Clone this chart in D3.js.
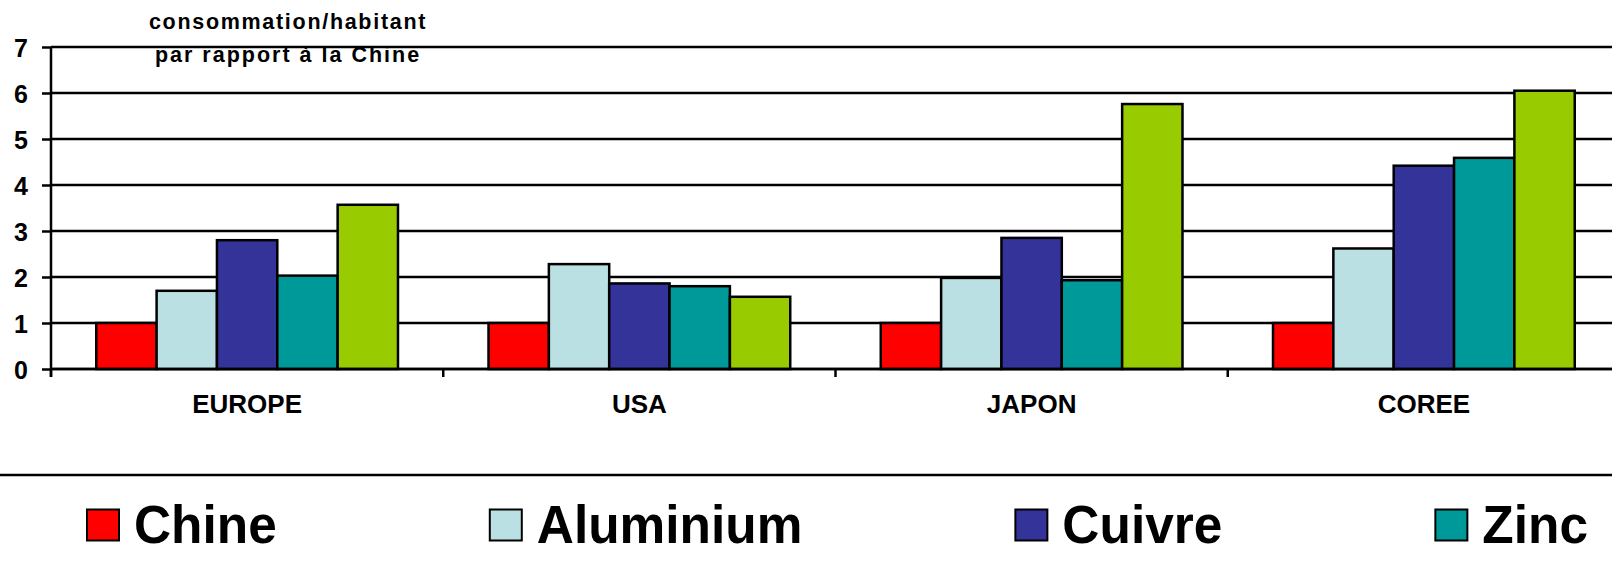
<!DOCTYPE html>
<html>
<head>
<meta charset="utf-8">
<script src="https://cdn.jsdelivr.net/npm/d3@7"></script>
<style>
  html, body { margin: 0; padding: 0; background: #fff; }
  svg { display: block; font-family: "Liberation Sans", Arial, sans-serif; font-weight: bold; }
</style>
</head>
<body>
<svg id="chart" width="1612" height="570"></svg>
<script>
// Consumption per inhabitant relative to China (China = 1)
const categories = ["EUROPE", "USA", "JAPON", "COREE"];
const seriesNames = ["Chine", "Aluminium", "Cuivre", "Zinc", "Acier"];
const seriesColors = ["#FF0000", "#BBE0E3", "#333399", "#009999", "#99CC00"];
const chine     = [1.0, 1.0, 1.0, 1.0];
const aluminium = [1.70, 2.28, 1.98, 2.62];
const cuivre    = [2.80, 1.86, 2.85, 4.42];
const zinc      = [2.03, 1.80, 1.93, 4.59];
const acier     = [3.57, 1.57, 5.76, 6.05];
const yTicks = [0, 1, 2, 3, 4, 5, 6, 7];
const titleLines = ["consommation/habitant", "par rapport à la Chine"];

const seriesValues = [chine, aluminium, cuivre, zinc, acier];

const svg = d3.select("#chart");
const W = 1612;
const FONT = '"Liberation Sans", Arial, sans-serif';
const LW = 2.5;

// Plot area (the last group runs slightly past the right edge)
const plotLeft = 51, plotRight = 1620, plotTop = 47, plotBottom = 369;

const x = d3.scaleBand().domain(categories).range([plotLeft, plotRight]).paddingInner(0).paddingOuter(0);
const xs = d3.scaleBand().domain(seriesNames).range([0, x.bandwidth()]).paddingInner(0).paddingOuter(0.75);
const y = d3.scaleLinear().domain([0, 7]).range([plotBottom, plotTop]);

// Horizontal gridlines
svg.append("g").selectAll("line").data(yTicks).join("line")
  .attr("x1", plotLeft).attr("x2", W)
  .attr("y1", d => y(d)).attr("y2", d => y(d))
  .attr("stroke", "#000").attr("stroke-width", LW);

// Y axis
const yAxis = d3.axisLeft(y).tickValues(yTicks).tickSize(9).tickPadding(14).tickFormat(d3.format("d"));
const gy = svg.append("g").attr("transform", `translate(${plotLeft},0)`).call(yAxis);
gy.attr("font-size", null).attr("font-family", null);
gy.select(".domain").remove();
gy.selectAll(".tick line").attr("stroke", "#000").attr("stroke-width", LW);
gy.selectAll(".tick text")
  .attr("fill", "#000").attr("dy", "0.36em")
  .attr("font-size", 25)
  .style("font-size", "25px").style("font-weight", "bold").style("font-family", FONT);
svg.append("line").attr("x1", plotLeft).attr("x2", plotLeft).attr("y1", plotTop).attr("y2", plotBottom + 8)
  .attr("stroke", "#000").attr("stroke-width", LW);

// Bars
const rows = [];
categories.forEach((c, i) => {
  seriesNames.forEach((s, j) => rows.push({ c, s, j, v: seriesValues[j][i] }));
});
svg.append("g").selectAll("rect").data(rows).join("rect")
  .attr("x", d => x(d.c) + xs(d.s))
  .attr("width", xs.bandwidth())
  .attr("y", d => y(d.v))
  .attr("height", d => y(0) - y(d.v))
  .attr("fill", d => seriesColors[d.j])
  .attr("stroke", "#000").attr("stroke-width", LW);

// X axis baseline, category separators and labels
svg.append("line").attr("x1", plotLeft).attr("x2", W).attr("y1", plotBottom).attr("y2", plotBottom)
  .attr("stroke", "#000").attr("stroke-width", LW);
const bounds = categories.map(c => x(c)).concat([x(categories[categories.length - 1]) + x.bandwidth()]);
svg.append("g").selectAll("line").data(bounds).join("line")
  .attr("x1", d => d).attr("x2", d => d).attr("y1", plotBottom).attr("y2", plotBottom + 8)
  .attr("stroke", "#000").attr("stroke-width", LW);
svg.append("g").selectAll("text").data(categories).join("text")
  .attr("x", d => x(d) + x.bandwidth() / 2)
  .attr("y", 413)
  .attr("text-anchor", "middle")
  .style("font-size", "26px")
  .text(d => d);

// Axis title
svg.append("g").selectAll("text").data(titleLines).join("text")
  .attr("x", 288).attr("y", (d, i) => 28.5 + i * 33.5)
  .attr("text-anchor", "middle")
  .style("font-size", "21.5px").style("letter-spacing", (d, i) => i ? "2px" : "1.7px")
  .text(d => d);

// Legend separator
svg.append("line").attr("x1", 0).attr("x2", W).attr("y1", 475).attr("y2", 475)
  .attr("stroke", "#000").attr("stroke-width", 2.5);

// Legend entries laid out left to right, text slightly condensed; entries past the edge are skipped
const legend = svg.append("g");
const squeeze = 0.97;
let lx = 87;
seriesNames.forEach((s, j) => {
  if (lx + 47 >= W) return;
  legend.append("rect").attr("x", lx).attr("y", 509.5).attr("width", 32).attr("height", 31)
    .attr("fill", seriesColors[j]).attr("stroke", "#000").attr("stroke-width", 2);
  const t = legend.append("text")
    .attr("transform", `translate(${lx + 47},543) scale(${squeeze},1)`)
    .style("font-size", "53px").text(s);
  lx = lx + 47 + t.node().getComputedTextLength() * squeeze + 213;
});
</script>
</body>
</html>
